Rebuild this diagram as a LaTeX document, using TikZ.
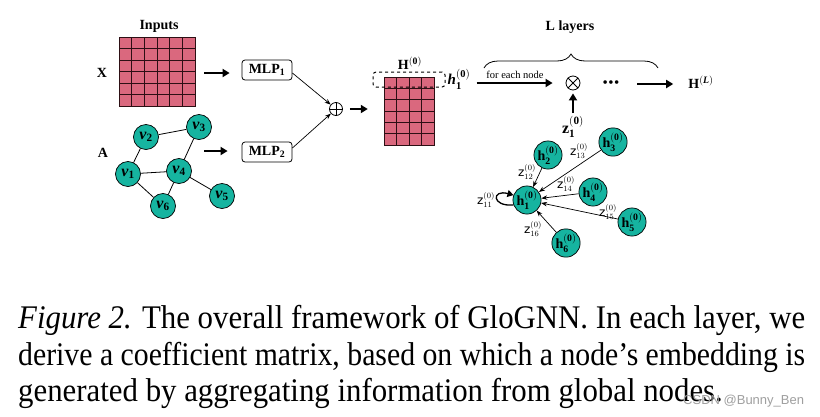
\documentclass[tikz,border=0pt]{standalone}
\usepackage{amsmath}
\usepackage{fontspec}
\usepackage{graphicx}
\setmainfont{Liberation Serif}
\newfontfamily\zfont{DejaVu Sans}
\newfontfamily\wmfont{Liberation Sans}
\usetikzlibrary{arrows.meta,decorations.pathreplacing}
\definecolor{tealc}{RGB}{22,180,160}
\definecolor{pinkc}{RGB}{218,104,126}
\definecolor{gridc}{RGB}{45,15,20}
\newcommand\capfont{\fontsize{33}{37}\selectfont}
\newsavebox\capA
\newsavebox\capB
\newsavebox\capC
\begin{document}
\sbox\capA{\capfont\textit{Figure 2.} The overall framework of GloGNN. In each layer, we}
\sbox\capB{\capfont derive a coefficient matrix, based on which a node’s embedding is}
\sbox\capC{\capfont generated by aggregating information from global nodes.}
\begin{tikzpicture}[x=1pt,y=-1pt,
  lbl/.style={font=\fontsize{14}{16}\selectfont\bfseries, inner sep=1pt},
  mlpbox/.style={draw, rounded corners=3pt, minimum width=50pt, minimum height=20pt, inner sep=0pt, line width=0.8pt, font=\fontsize{14}{16}\selectfont\bfseries},
  gnode/.style={circle, draw, fill=tealc, minimum size=25pt, inner sep=0pt, line width=0.7pt, font=\fontsize{16}{16}\selectfont},
  hnode/.style={circle, draw, fill=tealc, minimum size=25pt, inner sep=0pt, line width=0.7pt, font=\fontsize{14}{14}\selectfont},
  thickarrow/.style={line width=2pt, -{Triangle[length=7pt,width=8pt]}},
  thinarrow/.style={line width=0.7pt, -{Stealth[length=6pt,width=4.5pt]}},
  edgeline/.style={line width=0.8pt},
  zlab/.style={font=\fontsize{12}{12}\selectfont, inner sep=0pt},
  cell/.style={fill=pinkc, draw=gridc, line width=1pt},
  opnode/.style={circle, draw, minimum size=13pt, inner sep=0pt, line width=0.8pt},
]
\useasboundingbox (0,0) rectangle (820,416);
\fill[white] (0,0) rectangle (820,416);

% ---------- input matrix ----------
\foreach \i in {0,...,5}
  \foreach \j in {0,...,5}
    \draw[cell] ({119+\j*76/6},{37+\i*69/6}) rectangle +({76/6},{69/6});
\node[minimum width=76pt, minimum height=69pt, inner sep=0pt] (Xm) at (157,71.5) {};
\node[lbl] (inputs) at (159,26) {Inputs};
\node[lbl] (xlab) at (102,73) {X};
\node[lbl] (alab) at (103,153) {A};

% ---------- graph ----------
\node[gnode] (v1) at (128,174) {\textbf{\textit{v}}$_{\mathbf{1}}$};
\node[gnode] (v2) at (146,137) {\textbf{\textit{v}}$_{\mathbf{2}}$};
\node[gnode] (v3) at (199,127) {\textbf{\textit{v}}$_{\mathbf{3}}$};
\node[gnode] (v4) at (179,171) {\textbf{\textit{v}}$_{\mathbf{4}}$};
\node[gnode] (v5) at (222,196) {\textbf{\textit{v}}$_{\mathbf{5}}$};
\node[gnode] (v6) at (163,206) {\textbf{\textit{v}}$_{\mathbf{6}}$};
\draw[edgeline] (v1) -- (v2);
\draw[edgeline] (v2) -- (v3);
\draw[edgeline] (v3) -- (v4);
\draw[edgeline] (v1) -- (v4);
\draw[edgeline] (v1) -- (v6);
\draw[edgeline] (v4) -- (v6);
\draw[edgeline] (v4) -- (v5);
\coordinate (astart) at (204,151);

% ---------- MLPs ----------
\node[mlpbox] (mlp1) at (267,70) {MLP$_{\mathbf{1}}$};
\node[mlpbox] (mlp2) at (267,152) {MLP$_{\mathbf{2}}$};
\draw[thickarrow, shorten <=9pt, shorten >=12pt] (Xm.east |- mlp1.east) ++(0,3) coordinate (xs) (xs) -- (xs -| mlp1.west);
\draw[thickarrow, shorten >=14pt] (astart) -- (astart -| mlp2.west);

\node[opnode] (op) at (336,109) {};
\draw[line width=0.8pt] (op.north) -- (op.south) (op.west) -- (op.east);
\draw[thinarrow] ([yshift=-3pt]mlp1.east) -- (op);
\draw[thinarrow] ([yshift=4pt]mlp2.east) -- (op);

% ---------- H(0) matrix ----------
\foreach \i in {0,...,5}
  \foreach \j in {0,...,3}
    \draw[cell] ({384+\j*12.5},{77+\i*68/6}) rectangle +(12.5,{68/6});
\node[minimum width=50pt, minimum height=68pt, inner sep=0pt] (Hm) at (409,111) {};
\node[draw, dashed, rounded corners=3pt, minimum width=72pt, minimum height=15pt, line width=1pt, inner sep=0pt] (hbox) at (409,79.5) {};
\node[lbl] (Hlab) at (410,63) {H$^{\mathbf{(0)}}$};
\draw[thickarrow, shorten <=7pt, shorten >=16pt] (op.east) -- (op.east -| Hm.west);

% ---------- layer part ----------
\node[lbl, font=\fontsize{15}{16}\selectfont\bfseries] (h1t) at (459,79) {\textit{h}$_{\mathbf{1}}^{\mathbf{(0)}}$};
\node[opnode, minimum size=14pt] (ot) at (573,83) {};
\draw[line width=0.8pt] (ot.45) -- (ot.225) (ot.135) -- (ot.315);
\draw[thickarrow, shorten <=5pt, shorten >=13pt] (h1t.east |- ot) -- (ot.west);
\node[font=\fontsize{10.5}{11}\selectfont, inner sep=0pt] (fen) at (515,75) {for each node};
\node[font=\fontsize{15}{15}\selectfont, inner sep=0pt] (dots) at (611,84) {\textbullet\hspace{0.5pt}\textbullet\hspace{0.5pt}\textbullet};
\node[lbl] (HL) at (701,82) {H$^{\mathbf{(}\text{\bfseries\itshape L}\mathbf{)}}$};
\draw[thickarrow, shorten <=26pt, shorten >=14pt] (dots.center) -- (dots.center -| HL.west);
\coordinate (br1) at (484,68);
\coordinate (br2) at (658,68);
\draw[decorate, decoration={brace, amplitude=14pt}, line width=0.8pt] (br1) -- (br2);
\node[lbl] (Llab) at (570,27) {L layers};
\node[lbl, font=\fontsize{16}{16}\selectfont\bfseries] (z1t) at (573,127) {z$_{\mathbf{1}}^{\mathbf{(0)}}$};
\draw[thickarrow, shorten >=3pt] (z1t.north |- 0,113) coordinate (zs) (zs) -- (ot.south);

% ---------- aggregation graph ----------
\node[hnode] (h1) at (527,200) {\textbf{h}$_{\mathbf{1}}^{\mathbf{(0)}}$};
\node[hnode] (h2) at (548,155) {\textbf{h}$_{\mathbf{2}}^{\mathbf{(0)}}$};
\node[hnode] (h3) at (613,142) {\textbf{h}$_{\mathbf{3}}^{\mathbf{(0)}}$};
\node[hnode] (h4) at (593,192) {\textbf{h}$_{\mathbf{4}}^{\mathbf{(0)}}$};
\node[hnode] (h5) at (632,222) {\textbf{h}$_{\mathbf{5}}^{\mathbf{(0)}}$};
\node[hnode] (h6) at (566,243) {\textbf{h}$_{\mathbf{6}}^{\mathbf{(0)}}$};
\draw[thinarrow] (h2) -- (h1);
\draw[thinarrow] (h3) -- (h1);
\draw[thinarrow] (h4) -- (h1);
\draw[thinarrow] (h5) -- (h1);
\draw[thinarrow] (h6) -- (h1);
\draw[line width=1.3pt, -{Triangle[length=6pt,width=7pt]}] (h1.200) .. controls +(-22,2) and +(-22,-6) .. (h1.160);
\node[zlab] (z11) at (486,200) {{\zfont z}$^{(0)}_{11}$};
\node[zlab] (z12) at (527,172) {{\zfont z}$^{(0)}_{12}$};
\node[zlab] (z13) at (579,151) {{\zfont z}$^{(0)}_{13}$};
\node[zlab] (z14) at (566,184) {{\zfont z}$^{(0)}_{14}$};
\node[zlab] (z15) at (608,212) {{\zfont z}$^{(0)}_{15}$};
\node[zlab] (z16) at (533,229) {{\zfont z}$^{(0)}_{16}$};

% ---------- caption ----------
\node[anchor=base west, inner sep=0pt] (cap1) at (18,328) {\resizebox{787pt}{\height}{\usebox\capA}};
\node[anchor=base west, inner sep=0pt] (cap2) at (18,365) {\resizebox{787pt}{\height}{\usebox\capB}};
\pgfmathsetmacro\capsx{787/\the\wd\capA}
\node[anchor=base west, inner sep=0pt] (cap3) at (18,401) {\scalebox{\capsx}[1]{\usebox\capC}};
\node[anchor=base west, inner sep=0pt, text=gray!75, font=\wmfont\fontsize{13}{14}\selectfont] (wm) at (683,404) {CSDN @Bunny\_Ben};
\end{tikzpicture}
\end{document}
